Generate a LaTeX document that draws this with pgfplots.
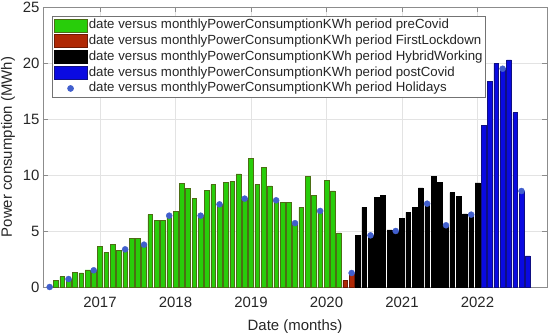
\documentclass[border=0pt]{standalone}
\usepackage{fontspec}
\setmainfont{Liberation Sans}
\usepackage{pgfplots}
\pgfplotsset{compat=1.18}
\definecolor{grn}{RGB}{40,205,10}
\definecolor{grnE}{RGB}{75,110,20}
\definecolor{redF}{RGB}{175,40,5}
\definecolor{redE}{RGB}{110,25,5}
\definecolor{bluF}{RGB}{10,10,225}
\definecolor{bluE}{RGB}{15,15,130}
\definecolor{dotC}{RGB}{65,95,205}
\definecolor{axC}{RGB}{140,140,140}
\definecolor{txtC}{RGB}{38,38,38}
\pgfplotsset{
  barleg/.style={legend image code/.code={\draw[##1] (0bp,-6.5bp) rectangle (33bp,6.5bp);}},
  dotleg/.style={legend image code/.code={\draw[mark repeat=2,mark phase=2,##1] plot coordinates {(0bp,0bp) (16.5bp,0bp) (33bp,0bp)};}},
}
\begin{document}
\begin{tikzpicture}
\begin{axis}[
  scale only axis, width=504bp, height=280bp,
  xmin=2016.245, xmax=2022.921, ymin=0, ymax=25,
  xtick={2017,2018,2019,2020,2021,2022},
  xticklabels={2017,2018,2019,2020,2021,2022},
  ytick={0,5,10,15,20,25},
  grid=major, grid style={gray!22, line width=0.5bp},
  axis line style={axC, line width=0.6bp},
  tick style={axC, line width=0.6bp},
  tick align=inside, major tick length=5bp,
  ticklabel style={font=\fontsize{15}{17}\selectfont, text=txtC},
  xticklabel style={yshift=-6.5bp},
  label style={font=\fontsize{15}{17}\selectfont, text=txtC},
  xlabel style={yshift=-5bp},
  ylabel style={yshift=1bp},
  xlabel={Date (months)}, ylabel={Power consumption (MWh)},
  /pgf/number format/assume math mode=true,
  legend cell align=left,
  legend style={at={(rel axis cs:0.0179,0.968)}, anchor=north west,
    draw=black!55, line width=0.6bp, fill=white,
    font=\fontsize{13.3}{15}\selectfont, text=txtC,
    inner xsep=1.5bp, inner ysep=1.5bp, row sep=0.8bp,
    nodes={inner sep=1.5bp, text height=9.5bp, text depth=2.5bp}},
]
\addplot[ybar, bar width=0.0625, bar shift=0pt, fill=grn, draw=grnE, line width=0.5bp, barleg] coordinates {
(2016.3333,0) (2016.4167,0.57) (2016.5,0.92) (2016.5833,0.71) (2016.6667,1.31) (2016.75,1.25) (2016.8333,1.52) (2016.9167,1.49)
(2017.0,3.66) (2017.0833,3.1) (2017.1667,3.78) (2017.25,3.24) (2017.3333,3.36) (2017.4167,4.35) (2017.5,4.35) (2017.5833,3.78)
(2017.6667,6.46) (2017.75,5.95) (2017.8333,5.95) (2017.9167,6.37)
(2018.0,6.76) (2018.0833,9.26) (2018.1667,8.81) (2018.25,7.92) (2018.3333,6.37) (2018.4167,8.63) (2018.5,9.14) (2018.5833,7.38)
(2018.6667,9.32) (2018.75,9.40) (2018.8333,10.1) (2018.9167,7.89)
(2019.0,11.49) (2019.0833,9.17) (2019.1667,10.65) (2019.25,9.02) (2019.3333,7.74) (2019.4167,7.53) (2019.5,7.53) (2019.5833,5.70)
(2019.6667,7.11) (2019.75,9.88) (2019.8333,8.18) (2019.9167,6.79)
(2020.0,9.5) (2020.0833,8.58) (2020.1667,4.83)
};
\addlegendentry{date versus monthlyPowerConsumptionKWh period preCovid}
\addplot[ybar, bar width=0.0625, bar shift=0pt, fill=redF, draw=redE, line width=0.5bp, barleg] coordinates {
(2020.25,0.6) (2020.3333,1.25)
};
\addlegendentry{date versus monthlyPowerConsumptionKWh period FirstLockdown}
\addplot[ybar, bar width=0.0625, bar shift=0pt, fill=black, draw=black, line width=0.5bp, barleg] coordinates {
(2020.4167,4.61) (2020.5,7.11) (2020.5833,4.61) (2020.6667,7.98) (2020.75,8.21) (2020.8333,5.09) (2020.9167,5.0)
(2021.0,6.10) (2021.0833,6.67) (2021.1667,7.08) (2021.25,8.84) (2021.3333,7.44) (2021.4167,9.91) (2021.5,9.32) (2021.5833,5.51)
(2021.6667,8.42) (2021.75,8.07) (2021.8333,6.52) (2021.9167,6.46)
(2022.0,9.29)
};
\addlegendentry{date versus monthlyPowerConsumptionKWh period HybridWorking}
\addplot[ybar, bar width=0.0625, bar shift=0pt, fill=bluF, draw=bluE, line width=0.5bp, barleg] coordinates {
(2022.0833,14.43) (2022.1667,18.33) (2022.25,19.94) (2022.3333,19.49) (2022.4167,20.27) (2022.5,15.57) (2022.5833,8.57) (2022.6667,2.77)
};
\addlegendentry{date versus monthlyPowerConsumptionKWh period postCovid}
\addplot[only marks, mark=*, mark size=3bp, draw=dotC, fill=dotC, dotleg] coordinates {
(2016.3333,0) (2016.5833,0.71) (2016.9167,1.49) (2017.3333,3.36) (2017.5833,3.78) (2017.9167,6.37) (2018.3333,6.37) (2018.5833,7.38)
(2018.9167,7.89) (2019.3333,7.74) (2019.5833,5.70) (2019.9167,6.79) (2020.3333,1.25) (2020.5833,4.61) (2020.9167,5.0) (2021.3333,7.44)
(2021.5833,5.51) (2021.9167,6.46) (2022.3333,19.49) (2022.5833,8.57)
};
\addlegendentry{date versus monthlyPowerConsumptionKWh period Holidays}
\end{axis}
\pgfresetboundingbox
\path ([shift={(-43bp,-46bp)}]current axis.south west) rectangle ([shift={(3bp,7bp)}]current axis.north east);
\end{tikzpicture}
\end{document}
